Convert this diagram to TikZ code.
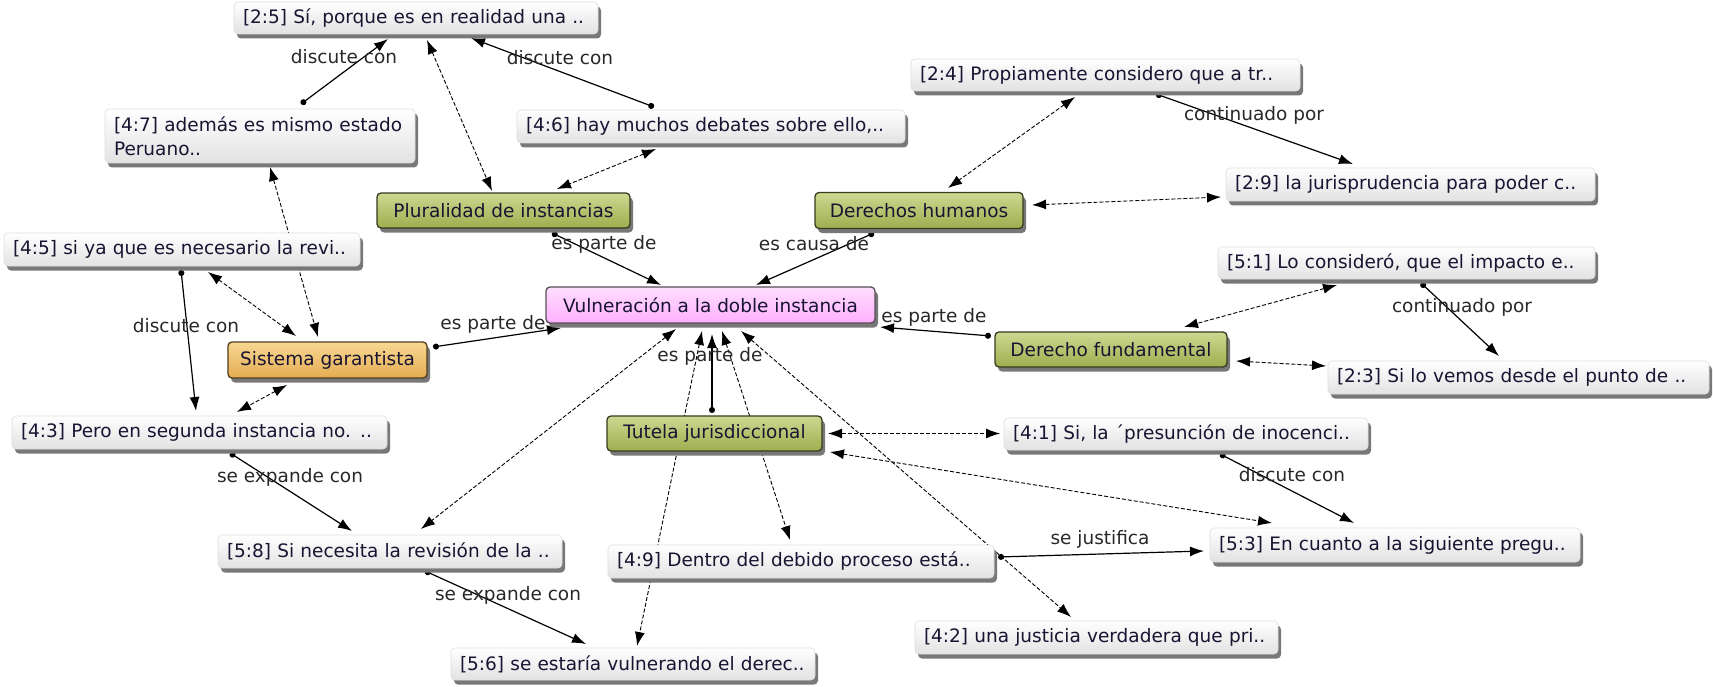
\documentclass[tikz,border=0pt]{standalone}
\usepackage{fontspec}
\setmainfont{DejaVu Sans}
\usetikzlibrary{arrows.meta,shadows}
\definecolor{txt}{RGB}{25,20,50}
\definecolor{lbltxt}{RGB}{40,40,40}
\definecolor{qbot}{RGB}{226,226,226}
\definecolor{qbrd}{RGB}{222,222,222}
\definecolor{shd}{RGB}{120,120,120}
\definecolor{gtop}{RGB}{205,216,145}
\definecolor{gbot}{RGB}{158,174,78}
\definecolor{gbrd}{RGB}{55,58,30}
\definecolor{ptop}{RGB}{255,222,255}
\definecolor{pbot}{RGB}{255,175,255}
\definecolor{pbrd}{RGB}{85,80,85}
\definecolor{otop}{RGB}{248,216,146}
\definecolor{obot}{RGB}{228,172,82}
\definecolor{obrd}{RGB}{80,62,30}
\pgfdeclarelayer{edges}
\pgfsetlayers{edges,main}
\newcommand\nf{\fontsize{18.5}{24}\selectfont}
\tikzset{
  base/.style={rectangle, rounded corners=4pt, inner xsep=9pt, inner ysep=0pt, font=\nf, text=txt,
    drop shadow={shadow xshift=3pt, shadow yshift=-4.5pt, fill=shd, opacity=1}},
  quote/.style={base, top color=white, bottom color=qbot, draw=qbrd, line width=0.6pt, align=left},
  code/.style={base, line width=1.3pt, align=center},
  green/.style={code, top color=gtop, bottom color=gbot, draw=gbrd},
  pink/.style={code, top color=ptop, bottom color=pbot, draw=pbrd},
  orange/.style={code, top color=otop, bottom color=obot, draw=obrd},
  sol/.style={line width=1.2pt, black, {Circle[length=6pt]}-{Latex[length=14pt,width=10pt]}},
  dsh/.style={line width=0.9pt, black, dash pattern=on 4pt off 2pt, {Latex[length=14pt,width=10pt]}-{Latex[length=14pt,width=10pt]}},
  lbl/.style={font=\nf, text=lbltxt, inner sep=0pt}
}
\begin{document}
\begin{tikzpicture}[x=1pt,y=-1pt]
\useasboundingbox (0,0) rectangle (1713,687);
% quotation nodes
\node[quote, text width=346pt, minimum height=32pt] (n25) at (416,18) {\mbox{[2:5] Sí, porque es en realidad una ..}};
\node[quote, text width=292pt, minimum height=54pt] (n47) at (260,136) {[4:7] además es mismo estado\\Peruano..};
\node[quote, text width=370pt, minimum height=33pt] (n46) at (711,126.5) {\mbox{[4:6] hay muchos debates sobre ello,..}};
\node[quote, text width=371pt, minimum height=32pt] (n24) at (1105.5,75) {\mbox{[2:4] Propiamente considero que a tr..}};
\node[quote, text width=351pt, minimum height=33pt] (n29) at (1410.5,184.5) {\mbox{[2:9] la jurisprudencia para poder c..}};
\node[quote, text width=338pt, minimum height=33pt] (n45) at (182,249.5) {\mbox{[4:5] si ya que es necesario la revi..}};
\node[quote, text width=359pt, minimum height=32pt] (n51) at (1406.5,263) {\mbox{[5:1] Lo consideró, que el impacto e..}};
\node[quote, text width=363pt, minimum height=33pt] (n23) at (1518.5,377.5) {\mbox{[2:3] Si lo vemos desde el punto de ..}};
\node[quote, text width=357pt, minimum height=33pt] (n43) at (199.5,432.5) {\mbox{[4:3] Pero en segunda instancia no. ..}};
\node[quote, text width=346pt, minimum height=32pt] (n41) at (1186,434) {\mbox{[4:1] Si, la ´presunción de inocenci..}};
\node[quote, text width=326pt, minimum height=33pt] (n58) at (390,551.5) {\mbox{[5:8] Si necesita la revisión de la ..}};
\node[quote, text width=368pt, minimum height=33pt] (n49) at (801,561.5) {\mbox{[4:9] Dentro del debido proceso está..}};
\node[quote, text width=352pt, minimum height=34pt] (n53) at (1395,545) {\mbox{[5:3] En cuanto a la siguiente pregu..}};
\node[quote, text width=345pt, minimum height=33pt] (n42) at (1096.5,637.5) {\mbox{[4:2] una justicia verdadera que pri..}};
\node[quote, text width=346pt, minimum height=32pt] (n56) at (633,664) {\mbox{[5:6] se estaría vulnerando el derec..}};
% code nodes
\node[green, minimum width=253pt, minimum height=35pt] (PI) at (503.5,210.5) {Pluralidad de instancias};
\node[green, minimum width=208pt, minimum height=36pt] (DH) at (919,210.5) {Derechos humanos};
\node[pink, minimum width=329pt, minimum height=36pt] (V) at (710.5,305) {Vulneración a la doble instancia};
\node[orange, minimum width=199pt, minimum height=36pt] (SG) at (327.5,360) {Sistema garantista};
\node[green, minimum width=232pt, minimum height=35pt] (DF) at (1111,349.5) {Derecho fundamental};
\node[green, minimum width=215pt, minimum height=35pt] (TJ) at (714.5,433.5) {Tutela jurisdiccional};
\begin{pgfonlayer}{edges}
% solid links
\draw[sol] ([shift={(41,-32)}]n47.center) -- ([shift={(-28,21)}]n25.center);
\draw[sol] ([shift={(-57,-19.5)}]n46.center) -- ([shift={(55,20)}]n25.center);
\draw[sol] ([shift={(50.5,19)}]n24.center) -- ([shift={(-57.5,-20.5)}]n29.center);
\draw[sol] ([shift={(14.5,20)}]n51.center) -- ([shift={(-19.5,-21.5)}]n23.center);
\draw[sol] ([shift={(48.5,22.5)}]PI.center) -- ([shift={(-49.5,-20)}]V.center);
\draw[sol] ([shift={(-45,22.5)}]DH.center) -- ([shift={(45.5,-20)}]V.center);
\draw[sol] ([shift={(105.5,-13)}]SG.center) -- ([shift={(-149.5,23)}]V.center);
\draw[sol] ([shift={(-120,-13.5)}]DF.center) -- ([shift={(169.5,22)}]V.center);
\draw[sol] ([shift={(-2.5,-20.5)}]TJ.center) -- ([shift={(1.5,29)}]V.center);
\draw[sol] ([shift={(-1,20.5)}]n45.center) -- ([shift={(-3.5,-21.5)}]n43.center);
\draw[sol] ([shift={(30.5,20.5)}]n43.center) -- ([shift={(-38,-20.5)}]n58.center);
\draw[sol] ([shift={(35,19.5)}]n58.center) -- ([shift={(-47,-20)}]n56.center);
\draw[sol] ([shift={(34,20)}]n41.center) -- ([shift={(-41,-22)}]n53.center);
\draw[sol] ([shift={(197,-4.5)}]n49.center) -- ([shift={(-191,6)}]n53.center);
% dashed links
\draw[dsh] ([shift={(11,22)}]n25.center) -- ([shift={(-11.5,-19.5)}]PI.center);
\draw[dsh] ([shift={(-55,22.5)}]n46.center) -- ([shift={(53.5,-21.5)}]PI.center);
\draw[dsh] ([shift={(10,31)}]n47.center) -- ([shift={(-9.5,-23)}]SG.center);
\draw[dsh] ([shift={(26,22.5)}]n45.center) -- ([shift={(-31.5,-24)}]SG.center);
\draw[dsh] ([shift={(-40.5,25)}]SG.center) -- ([shift={(37.5,-20.5)}]n43.center);
\draw[dsh] ([shift={(-30.5,22)}]n24.center) -- ([shift={(29,-22.5)}]DH.center);
\draw[dsh] ([shift={(113,-5.5)}]DH.center) -- ([shift={(-189.5,12.5)}]n29.center);
\draw[dsh] ([shift={(-69.5,22)}]n51.center) -- ([shift={(73,-22.5)}]DF.center);
\draw[dsh] ([shift={(125,11.5)}]DF.center) -- ([shift={(-192.5,-11.5)}]n23.center);
\draw[dsh] ([shift={(113.5,0)}]TJ.center) -- ([shift={(-186,-0.5)}]n41.center);
\draw[dsh] ([shift={(115.5,18.5)}]TJ.center) -- ([shift={(-123,-22)}]n53.center);
\draw[dsh] ([shift={(-34.5,24)}]V.center) -- ([shift={(31,-22.5)}]n58.center);
\draw[dsh] ([shift={(-8.5,26)}]V.center) -- ([shift={(4,-18)}]n56.center);
\draw[dsh] ([shift={(11.5,26)}]V.center) -- ([shift={(-11,-21.5)}]n49.center);
\draw[dsh] ([shift={(30.5,26)}]V.center) -- ([shift={(-25.5,-20.5)}]n42.center);
% link labels
\node[lbl] (l1) at (344,57) {discute con};
\node[lbl] (l2) at (560,58) {discute con};
\node[lbl] (l3) at (1254,115) {continuado por};
\node[lbl] (l4) at (1462,307) {continuado por};
\node[lbl] (l5) at (604,244) {es parte de};
\node[lbl] (l6) at (814,244) {es causa de};
\node[lbl] (l7) at (493,324) {es parte de};
\node[lbl] (l8) at (934,317) {es parte de};
\node[lbl] (l9) at (710,356) {es parte de};
\node[lbl] (l10) at (186,326) {discute con};
\node[lbl] (l11) at (290,477) {se expande con};
\node[lbl] (l12) at (508,595) {se expande con};
\node[lbl] (l13) at (1292,475) {discute con};
\node[lbl] (l14) at (1100,539) {se justifica};
\end{pgfonlayer}
\end{tikzpicture}
\end{document}
